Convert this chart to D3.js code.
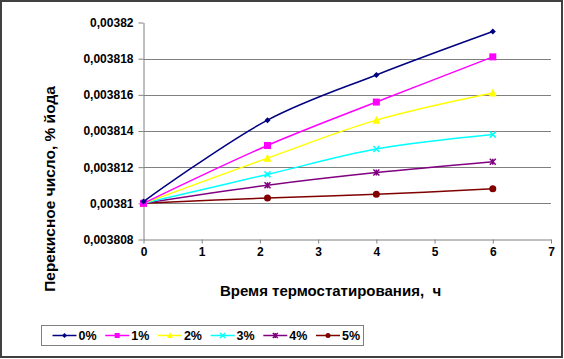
<!DOCTYPE html>
<html>
<head>
<meta charset="utf-8">
<script src="https://cdn.jsdelivr.net/npm/d3@7"></script>
<style>
  body { margin: 0; background: #fff; }
  text { font-family: Arial, "Liberation Sans", sans-serif; font-weight: bold; fill: #000; white-space: pre; }
</style>
</head>
<body>
<div class="chart"></div>
<script>
const width = 564;
const height = 359;

// data
const hours = [0, 2.13, 4, 6];
const seriesNames = ["0%", "1%", "2%", "3%", "4%", "5%"];
const s0 = [0.0038101, 0.0038146, 0.0038171, 0.0038195];
const s1 = [0.0038100, 0.0038132, 0.0038156, 0.0038181];
const s2 = [0.0038100, 0.0038125, 0.0038146, 0.0038161];
const s3 = [0.0038100, 0.0038116, 0.0038130, 0.0038138];
const s4 = [0.0038100, 0.0038110, 0.0038117, 0.0038123];
const s5 = [0.0038100, 0.0038103, 0.0038105, 0.0038108];
const yTicks = [0.003808, 0.00381, 0.003812, 0.003814, 0.003816, 0.003818, 0.00382];
const xTicks = [0, 1, 2, 3, 4, 5, 6, 7];

const colors = ["#000080", "#FF00FF", "#FFFF00", "#00FFFF", "#800080", "#800000"];
const shapes = ["diamond", "square", "triangle", "x", "star", "circle"];
const allSeries = [s0, s1, s2, s3, s4, s5];

const x = d3.scaleLinear().domain([0, 7]).range([143.5, 551]);
const y = d3.scaleLinear().domain([0.003808, 0.00382]).range([239.5, 22.5]);

const svg = d3.select(".chart")
  .append("svg")
  .attr("width", width)
  .attr("height", height);

svg.append("rect")
  .attr("x", 1).attr("y", 1)
  .attr("width", width - 3).attr("height", height - 3)
  .attr("fill", "#fff")
  .attr("stroke", "#404040")
  .attr("stroke-width", 2);

// gridlines (not on the bottom axis or the top tick)
svg.append("g")
  .selectAll("line")
  .data(yTicks.filter(d => d > 0.003808 && d < 0.00382))
  .join("line")
  .attr("x1", x(0)).attr("x2", x(7))
  .attr("y1", d => Math.round(y(d)) + 0.5).attr("y2", d => Math.round(y(d)) + 0.5)
  .attr("stroke", "#808080")
  .attr("stroke-width", 1);

const fmtY = d => String(+d.toFixed(6)).replace(".", ",");

const yAxis = svg.append("g")
  .attr("transform", `translate(${x(0)},0)`)
  .call(d3.axisLeft(y).tickValues(yTicks).tickFormat(fmtY).tickSize(5).tickSizeOuter(0));
yAxis.select(".domain").attr("stroke", "#808080");
yAxis.selectAll(".tick line").attr("stroke", "#808080");
yAxis.selectAll("text")
  .attr("x", -10)
  .style("font-size", "12px")
  .style("font-family", "Arial, 'Liberation Sans', sans-serif")
  .style("font-weight", "bold");

const xAxis = svg.append("g")
  .attr("transform", `translate(0,${y(0.003808)})`)
  .call(d3.axisBottom(x).tickValues(xTicks).tickFormat(d3.format("d")).tickSize(4).tickSizeOuter(0));
xAxis.select(".domain").attr("stroke", "#808080");
xAxis.selectAll(".tick line").attr("stroke", "#808080");
xAxis.selectAll("text")
  .attr("y", 8)
  .style("font-size", "12px")
  .style("font-family", "Arial, 'Liberation Sans', sans-serif")
  .style("font-weight", "bold");

// titles
svg.append("text")
  .attr("x", 330.5).attr("y", 296)
  .attr("text-anchor", "middle")
  .style("font-size", "15px")
  .text("Время термостатирования,  ч");

svg.append("text")
  .attr("transform", "translate(55,189) rotate(-90)")
  .attr("text-anchor", "middle")
  .style("font-size", "15.5px")
  .text("Перекисное число, % йода");

// markers
const drawMarker = (g, shape, color, cx, cy, s) => {
  if (shape === "diamond") {
    g.append("path").attr("d", `M${cx},${cy - s}L${cx + s},${cy}L${cx},${cy + s}L${cx - s},${cy}Z`).attr("fill", color);
  } else if (shape === "square") {
    g.append("rect").attr("x", cx - s).attr("y", cy - s).attr("width", 2 * s).attr("height", 2 * s).attr("fill", color);
  } else if (shape === "triangle") {
    g.append("path").attr("d", `M${cx},${cy - s - 1}L${cx + s + 0.5},${cy + s}L${cx - s - 0.5},${cy + s}Z`).attr("fill", color);
  } else if (shape === "x") {
    g.append("path").attr("d", `M${cx - s},${cy - s}L${cx + s},${cy + s}M${cx - s},${cy + s}L${cx + s},${cy - s}`).attr("stroke", color).attr("stroke-width", 1.5);
  } else if (shape === "star") {
    g.append("path").attr("d", `M${cx - s},${cy - s}L${cx + s},${cy + s}M${cx - s},${cy + s}L${cx + s},${cy - s}M${cx},${cy - s}L${cx},${cy + s}`).attr("stroke", color).attr("stroke-width", 1.5);
  } else {
    g.append("circle").attr("cx", cx).attr("cy", cy).attr("r", s).attr("fill", color);
  }
};

const line = d3.line()
  .x((d, i) => x(hours[i]))
  .y(d => y(d))
  .curve(d3.curveCatmullRom.alpha(0.5));

const markerSize = [3, 3.5, 3.5, 3, 3, 3.5];

// draw from last to first so navy sits on top at the origin
for (let k = allSeries.length - 1; k >= 0; k--) {
  const g = svg.append("g");
  g.append("path")
    .attr("d", line(allSeries[k]))
    .attr("fill", "none")
    .attr("stroke", colors[k])
    .attr("stroke-width", 1.5);
  allSeries[k].forEach((v, i) => drawMarker(g, shapes[k], colors[k], x(hours[i]), y(v), markerSize[k]));
}

// legend
const legend = svg.append("g");
legend.append("rect")
  .attr("x", 41.5).attr("y", 325.5)
  .attr("width", 322).attr("height", 20)
  .attr("fill", "#fff")
  .attr("stroke", "#808080");

seriesNames.forEach((name, k) => {
  const lx = 52.5 + k * 52.7;
  const ly = 335.5;
  legend.append("line")
    .attr("x1", lx).attr("x2", lx + 24)
    .attr("y1", ly).attr("y2", ly)
    .attr("stroke", colors[k]).attr("stroke-width", 1.5);
  drawMarker(legend, shapes[k], colors[k], lx + 12, ly, 2.5);
  legend.append("text")
    .attr("x", lx + 26).attr("y", ly + 4.5)
    .style("font-size", "12.5px")
    .text(name);
});
</script>
</body>
</html>
